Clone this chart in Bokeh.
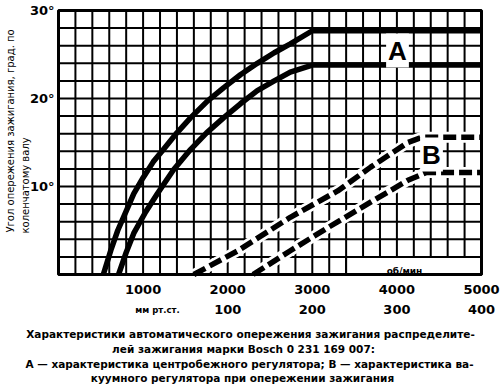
import math
from bokeh.plotting import figure
from bokeh.models import Range1d
from bokeh.core.properties import value
from bokeh.embed import file_html
from bokeh.resources import INLINE

# ---------------- data ----------------
rpm_ticks = [1000, 2000, 3000, 4000, 5000]
mmhg_ticks = [100, 200, 300, 400]
deg_ticks = [10, 20, 30]
grid_rpm = list(range(0, 5001, 200))
grid_deg = list(range(0, 31, 2))

a_upper_rpm = [530, 620, 700, 800, 890, 1000, 1120, 1240, 1400, 1560, 1760, 1950, 2150, 2350, 2550, 2740, 3000, 5000]
a_upper_deg = [0, 2.8, 5.0, 7.2, 9.2, 11.0, 12.8, 14.2, 16.1, 17.8, 19.7, 21.2, 22.7, 24.0, 25.2, 26.2, 27.7, 27.7]
a_lower_rpm = [710, 800, 890, 1030, 1170, 1360, 1560, 1750, 1950, 2150, 2350, 2550, 2740, 3000, 5000]
a_lower_deg = [0, 2.5, 4.7, 7.1, 9.2, 11.9, 14.2, 16.1, 17.8, 19.4, 20.9, 22.0, 23.0, 23.8, 23.8]
b_upper_rpm = [1600, 2120, 2740, 3300, 3690, 4130, 4300, 5000]
b_upper_deg = [0, 2.7, 6.5, 9.5, 12.2, 15.0, 15.6, 15.6]
b_lower_rpm = [2300, 2740, 3180, 3720, 4130, 4350, 5000]
b_lower_deg = [0, 2.7, 5.3, 8.4, 10.7, 11.6, 11.6]

caption = [
    "Характеристики автоматического опережения зажигания распределите-",
    "лей зажигания марки Bosch 0 231 169 007:",
    "А — характеристика центробежного регулятора; В — характеристика ва-",
    "куумного регулятора при опережении зажигания",
]
ytitle = ["Угол опережения зажигания, град. по", "коленчатому валу"]

# ---------------- layout (pixel placement of the grid box) ----------------
W, H = 500, 384
X0, X1 = 58, 481          # pixel x of 0 and 5000 rpm
Y0, Y1 = 274, 10          # pixel y of 0 and 30 degrees
sx = (X1 - X0) / 5000.0
sy = (Y0 - Y1) / 30.0


def rpm_at(px):
    return (px - X0) / sx


def deg_at(py):
    return (Y0 - py) / sy


def mm_at(px):
    return (rpm_at(px) - 1000) / 10.0


p = figure(width=W, height=H, output_backend="svg", toolbar_location=None,
           x_range=Range1d(rpm_at(0), rpm_at(W)), y_range=Range1d(deg_at(H), deg_at(0)),
           min_border=0, x_axis_type=None, y_axis_type=None)
p.outline_line_color = None
p.background_fill_color = "white"
p.border_fill_color = "white"
p.extra_x_ranges = {"mmhg": Range1d(mm_at(0), mm_at(W))}

# grid
p.segment(x0=grid_rpm, y0=[0] * len(grid_rpm), x1=grid_rpm, y1=[30] * len(grid_rpm),
          line_color="black", line_width=2)
p.segment(x0=[0] * len(grid_deg), y0=grid_deg, x1=[5000] * len(grid_deg), y1=grid_deg,
          line_color="black", line_width=2)

# white box for the rpm unit
p.quad(left=[3400], right=[5000], bottom=[0], top=[2], fill_color="white",
       line_color="black", line_width=2)

# curves A (solid)
p.line(a_upper_rpm, a_upper_deg, line_color="black", line_width=5.5, line_join="round")
p.line(a_lower_rpm, a_lower_deg, line_color="black", line_width=5.5, line_join="round")
# curves B (dashed, white halo)
for xs, ys in ((b_upper_rpm, b_upper_deg), (b_lower_rpm, b_lower_deg)):
    p.line(xs, ys, line_color="white", line_width=11, line_join="round")
    p.line(xs, ys, line_color="black", line_width=5.5, line_dash="13 5", line_join="round")

# frame border
p.quad(left=[0], right=[5000], bottom=[0], top=[30], fill_color=None,
       line_color="black", line_width=3)

# curve letters
p.text(x=[rpm_at(397), rpm_at(431)], y=[deg_at(50), deg_at(154)], text=["A", "B"],
       text_font=value("Liberation Sans"), text_font_style="bold", text_font_size=value("26px"),
       text_align="center", text_baseline="middle", text_color="black",
       background_fill_color="white", padding=2)

# tick labels
p.text(x=[rpm_at(54)] * len(deg_ticks), y=deg_ticks, text=[f"{d}°" for d in deg_ticks],
       text_font=value("DejaVu Sans"), text_font_style="bold", text_font_size=value("13px"),
       text_align="right", text_baseline="middle", text_color="black")
p.text(x=rpm_ticks, y=[deg_at(289)] * len(rpm_ticks), text=[str(t) for t in rpm_ticks],
       text_font=value("DejaVu Sans"), text_font_style="bold", text_font_size=value("13px"),
       text_align="center", text_baseline="middle", text_color="black")
p.text(x=mmhg_ticks, y=[deg_at(309)] * len(mmhg_ticks), text=[str(t) for t in mmhg_ticks],
       x_range_name="mmhg",
       text_font=value("DejaVu Sans"), text_font_style="bold", text_font_size=value("13px"),
       text_align="center", text_baseline="middle", text_color="black")

# unit labels
p.text(x=[rpm_at(404)], y=[deg_at(270)], text=["об/мин"],
       text_font=value("DejaVu Sans"), text_font_style="bold", text_font_size=value("9px"),
       text_align="center", text_baseline="middle", text_color="black")
p.text(x=[rpm_at(157)], y=[deg_at(309)], text=["мм рт.ст."],
       text_font=value("DejaVu Sans"), text_font_style="bold", text_font_size=value("8.5px"),
       text_align="center", text_baseline="middle", text_color="black")

# y-axis title (two rotated lines, starting at the bottom)
p.text(x=[rpm_at(10), rpm_at(25)], y=[deg_at(232), deg_at(233)], text=ytitle,
       angle=math.pi / 2, text_font=value("DejaVu Sans"), text_font_size=value("10px"),
       text_align="left", text_baseline="middle", text_color="black")

# caption
p.text(x=[rpm_at(250), rpm_at(243), rpm_at(249), rpm_at(242)],
       y=[deg_at(333), deg_at(348), deg_at(363), deg_at(377)], text=caption,
       text_font=value("DejaVu Sans"), text_font_style="bold", text_font_size=value("10.5px"),
       text_align="center", text_baseline="middle", text_color="black")

open("out.html", "w").write(file_html(p, INLINE))
